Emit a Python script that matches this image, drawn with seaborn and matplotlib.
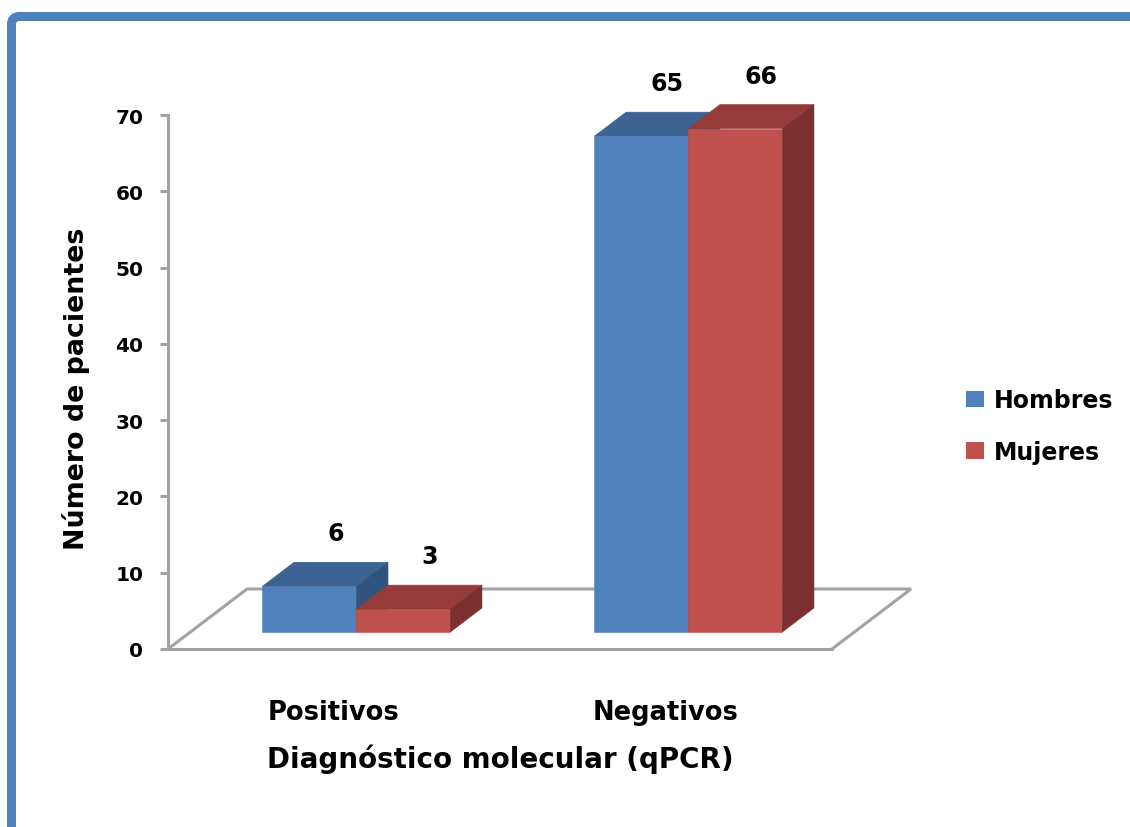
import matplotlib
matplotlib.use("Agg")
import matplotlib.pyplot as plt
import numpy as np
import pandas as pd
import seaborn as sns
from matplotlib.patches import Polygon, Rectangle, FancyBboxPatch
from matplotlib.lines import Line2D
from matplotlib.transforms import ScaledTranslation, IdentityTransform

# --- data -------------------------------------------------------------
categorias = ["Positivos", "Negativos"]
series = ["Hombres", "Mujeres"]
hombres = [6, 65]
mujeres = [3, 66]
y_ticks = [0, 10, 20, 30, 40, 50, 60, 70]

# --- styling ----------------------------------------------------------
sns.set_style("white")
plt.rcParams["font.family"] = ["DejaVu Sans"]
plt.rcParams["font.weight"] = "bold"
plt.rcParams["axes.labelweight"] = "bold"
plt.rcParams["text.color"] = "black"
plt.rcParams["axes.labelcolor"] = "black"

frente = {"Hombres": "#4F81BD", "Mujeres": "#C0504D"}
techo = {"Hombres": "#3C6391", "Mujeres": "#953B39"}
lado = {"Hombres": "#30547E", "Mujeres": "#7B302F"}
gris = "#A3A3A3"

W, H, DPI = 1130, 828, 100
fig = plt.figure(figsize=(W / DPI, H / DPI), dpi=DPI)
fig.patch.set_facecolor("white")

# plot area (front plane of the floor)
ax = fig.add_axes([168 / W, (H - 650) / H, (832 - 168) / W, (650 - 116) / H])

df = pd.DataFrame({
    "diagnostico": categorias * 2,
    "sexo": [series[0]] * len(categorias) + [series[1]] * len(categorias),
    "pacientes": hombres + mujeres,
})

sns.barplot(data=df, x="diagnostico", y="pacientes", hue="sexo",
            order=categorias, hue_order=series,
            palette=[frente[s] for s in series], saturation=1,
            width=0.566, gap=0, errorbar=None, legend=False,
            linewidth=0, ax=ax)

ax.set_xlim(-0.5, 1.5)
ax.set_ylim(0, 70)
ax.set_yticks(y_ticks)
ax.set_yticklabels([str(t) for t in y_ticks])

# perspective offsets (pixels): floor depth, bar front inset, bar depth
piso_dx, piso_dy = 79, 60
inset_dx, inset_dy = 22.4, 17
prof_dx, prof_dy = 31.6, 24

desplazar = ScaledTranslation(inset_dx / DPI, inset_dy / DPI, fig.dpi_scale_trans)
tr_barras = ax.transData + desplazar

# floor outline (left, back, right edges); front edge is the x axis line
p0 = ax.transData.transform((-0.5, 0))
p1 = ax.transData.transform((1.5, 0))
fx = [p0[0], p0[0] + piso_dx, p1[0] + piso_dx, p1[0]]
fy = [p0[1], p0[1] + piso_dy, p1[1] + piso_dy, p1[1]]
ax.add_line(Line2D(fx, fy, color=gris, lw=2.2, transform=IdentityTransform(),
                   solid_joinstyle="miter", clip_on=False, zorder=0.5))

# extrude every front face into a box
d = np.array([prof_dx, prof_dy])
for i, serie in enumerate(series):
    z = 3 + i
    for barra in ax.containers[i]:
        barra.set_transform(tr_barras)
        barra.set_clip_on(False)
        barra.set_zorder(z)
        barra.set_edgecolor(frente[serie])
        barra.set_linewidth(0.4)
        x0, w, h = barra.get_x(), barra.get_width(), barra.get_height()
        fl = tr_barras.transform((x0, h))
        fr = tr_barras.transform((x0 + w, h))
        br0 = tr_barras.transform((x0 + w, 0))
        top = Polygon([fl, fr, fr + d, fl + d], closed=True, fc=techo[serie],
                      ec=techo[serie], lw=0.4, transform=IdentityTransform(),
                      clip_on=False, zorder=z)
        side = Polygon([br0, fr, fr + d, br0 + d], closed=True, fc=lado[serie],
                       ec=lado[serie], lw=0.4, transform=IdentityTransform(),
                       clip_on=False, zorder=z)
        ax.add_patch(top)
        ax.add_patch(side)
        ax.annotate(f"{h:g}", xy=(x0 + w / 2, h), xycoords=tr_barras,
                    xytext=(26 / DPI * 72, 53 / DPI * 72), textcoords="offset points",
                    ha="center", va="center", fontsize=17, fontweight="bold",
                    color="black", annotation_clip=False, zorder=6)

# axes lines
for s in ["top", "right"]:
    ax.spines[s].set_visible(False)
for s in ["left", "bottom"]:
    ax.spines[s].set_color(gris)
    ax.spines[s].set_linewidth(2.2)
    ax.spines[s].set_zorder(0.6)
ax.tick_params(axis="y", length=5.8, width=2.2, color=gris, pad=12,
               labelsize=14.5, labelcolor="black", left=True)
ax.tick_params(axis="x", length=0, pad=36, labelsize=18.5, labelcolor="black")
for t in ax.get_xticklabels() + ax.get_yticklabels():
    t.set_fontweight("bold")

ax.set_xlabel("Diagnóstico molecular (qPCR)", fontsize=20, fontweight="bold", color="black")
ax.set_ylabel("Número de pacientes", fontsize=19.4, fontweight="bold", color="black")
ax.xaxis.set_label_coords(0.5, -0.177)
ax.yaxis.set_label_coords(-0.118, 0.489)
ax.set_facecolor("none")

# legend
manejadores = [Rectangle((0, 0), 1, 1, fc=frente[s], ec="none") for s in series]
leg = ax.legend(manejadores, series, loc="center left",
                bbox_to_anchor=(966 / W, (H - 427) / H), bbox_transform=fig.transFigure,
                frameon=False, handlelength=0.75, handleheight=0.7,
                handletextpad=0.45, labelspacing=1.15, borderpad=0, borderaxespad=0,
                prop={"weight": "bold", "size": 17})
for t in leg.get_texts():
    t.set_color("black")

# blue rounded frame around the chart area
marco = FancyBboxPatch((11.5, -60), W + 60, H - 17.5 + 60,
                       boxstyle="round,pad=0,rounding_size=8",
                       fc="none", ec="#4F81BD", lw=6.5,
                       transform=IdentityTransform(), zorder=10)
fig.add_artist(marco)

fig.savefig("out.png", dpi=DPI, facecolor="white")
